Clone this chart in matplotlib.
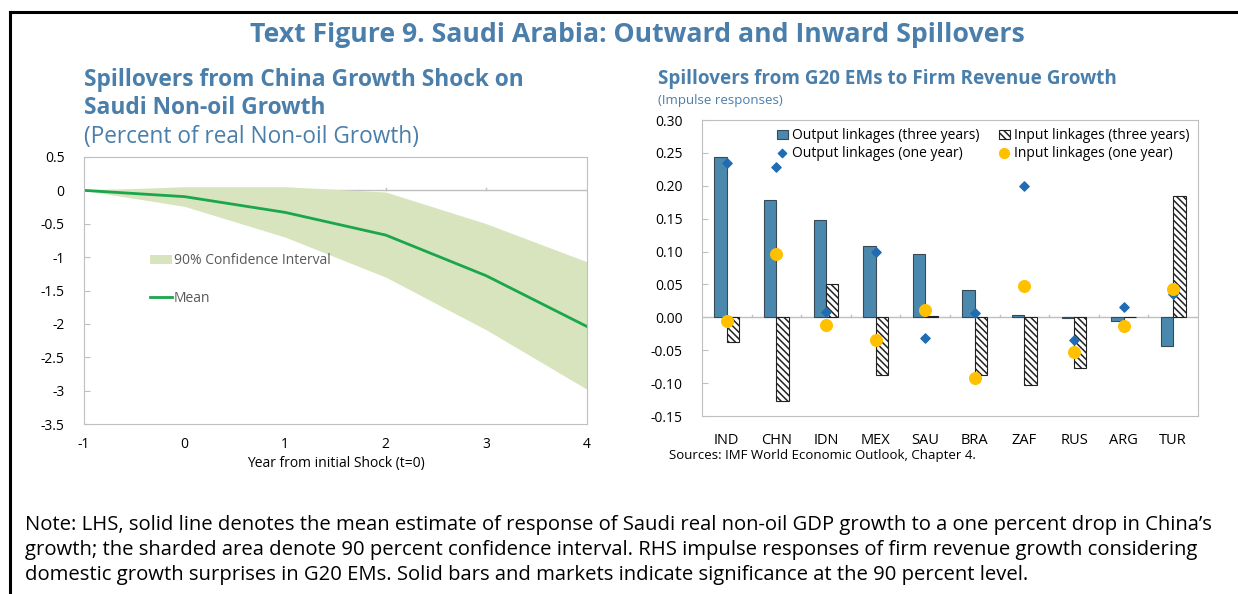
import numpy as np
import matplotlib
matplotlib.use("Agg")
import matplotlib.pyplot as plt
from matplotlib.lines import Line2D

plt.rcParams['font.family'] = ['Open Sans', 'DejaVu Sans']
plt.rcParams['axes.unicode_minus'] = False
plt.rcParams['hatch.linewidth'] = 1.1

# left chart data
years = [-1, 0, 1, 2, 3, 4]
mean = [0, -0.094, -0.33, -0.67, -1.28, -2.04]
lower = [0, -0.24, -0.70, -1.30, -2.09, -2.98]
upper = [0, 0.055, 0.055, -0.025, -0.50, -1.07]

# right chart data
countries = ['IND', 'CHN', 'IDN', 'MEX', 'SAU', 'BRA', 'ZAF', 'RUS', 'ARG', 'TUR']
out_3y = [0.244, 0.178, 0.148, 0.109, 0.096, 0.041, 0.003, -0.001, -0.006, -0.044]
in_3y = [-0.038, -0.127, 0.050, -0.087, 0.002, -0.088, -0.103, -0.077, 0.001, 0.184]
out_1y = [0.235, 0.228, 0.008, 0.099, -0.031, 0.007, 0.200, -0.035, 0.016, 0.036]
in_1y = [-0.005, 0.096, -0.012, -0.034, 0.011, -0.092, 0.048, -0.052, -0.013, 0.043]

title_col = '#4a7eab'
grey = '#bfbfbf'

fig = plt.figure(figsize=(12.38, 5.94), dpi=100)

# frame lines (top and left)
fig.add_artist(Line2D([10/1238, 1], [1-12/594, 1-12/594], color='black', lw=2.2))
fig.add_artist(Line2D([10/1238, 10/1238], [0, 1-12/594], color='black', lw=2.2))

fig.text(0.515, 1-35/594, 'Text Figure 9. Saudi Arabia: Outward and Inward Spillovers',
         ha='center', va='center', fontsize=19.2, fontweight='bold', color=title_col)

# ---- left chart
fig.text(84/1238, 1-80/594, 'Spillovers from China Growth Shock on', ha='left', va='center',
         fontsize=16.4, fontweight='bold', color=title_col)
fig.text(84/1238, 1-108/594, 'Saudi Non-oil Growth', ha='left', va='center',
         fontsize=16.4, fontweight='bold', color=title_col)
fig.text(84/1238, 1-137/594, '(Percent of real Non-oil Growth)', ha='left', va='center',
         fontsize=16.3, color=title_col)

ax1 = fig.add_axes([84/1238, 1-424/594, 503/1238, 267/594])
ax1.fill_between(years, lower, upper, color='#d7e4bd', lw=0, label='90% Confidence Interval')
ax1.plot(years, mean, color='#1aa64b', lw=2, label='Mean')
ax1.axhline(0, color=grey, lw=1, zorder=0)
for x in years[1:-1]:
    ax1.plot([x, x], [0, 0.04], color=grey, lw=1, zorder=0)
ax1.set_xlim(-1, 4)
ax1.set_ylim(-3.5, 0.5)
ax1.set_yticks(np.arange(-3.5, 0.51, 0.5))
ax1.set_yticklabels(['-3.5', '-3', '-2.5', '-2', '-1.5', '-1', '-0.5', '0', '0.5'])
ax1.set_xticks(years)
ax1.tick_params(axis='y', direction='in', length=4, color=grey, labelsize=10, pad=14)
ax1.tick_params(axis='x', length=0, labelsize=10, pad=9)
for s in ax1.spines.values():
    s.set_color(grey)
ax1.set_xlabel('Year from initial Shock (t=0)', fontsize=10, labelpad=3)
leg1 = ax1.legend(loc='upper left', bbox_to_anchor=(0.12, 0.66), frameon=False, fontsize=10,
                  labelspacing=1.6, handlelength=1.6, handletextpad=0.1, borderaxespad=0)
for t in leg1.get_texts():
    t.set_color('#595959')

# ---- right chart
fig.text(658/1238, 1-79/594, 'Spillovers from G20 EMs to Firm Revenue Growth', ha='left',
         va='center', fontsize=13.6, fontweight='bold', color=title_col)
fig.text(658/1238, 1-101/594, '(Impulse responses)', ha='left', va='center',
         fontsize=9.5, color=title_col)

ax2 = fig.add_axes([702/1238, 1-416/594, 496/1238, 296/594])
x = np.arange(len(countries))
w = 0.25
b1 = ax2.bar(x - w/2, out_3y, w, color='#4a89ad', edgecolor='#3a4a55', lw=0.8,
             label='Output linkages (three years)', zorder=2)
b2 = ax2.bar(x + w/2, in_3y, w, color='white', edgecolor='#222222', hatch='\\\\\\\\\\', lw=0.8,
             label='Input linkages (three years)', zorder=2)
s1 = ax2.scatter(x, out_1y, marker='D', s=22, color='#1f6bb5', label='Output linkages (one year)', zorder=3)
s2 = ax2.scatter(x, in_1y, marker='o', s=70, color='#ffc000', label='Input linkages (one year)', zorder=4)
ax2.axhline(0, color=grey, lw=1, zorder=1)
for b in np.arange(0.5, 9.5, 1):
    ax2.plot([b, b], [0, 0.004], color=grey, lw=1, zorder=1)
ax2.set_xlim(-0.5, 9.5)
ax2.set_ylim(-0.15, 0.30)
ax2.set_yticks(np.arange(-0.15, 0.301, 0.05))
ax2.set_yticklabels([f'{v:.2f}' for v in np.arange(-0.15, 0.301, 0.05)])
ax2.set_xticks(x)
ax2.set_xticklabels(countries)
ax2.tick_params(axis='y', direction='in', length=4, color=grey, labelsize=10, pad=14)
ax2.tick_params(axis='x', length=0, labelsize=10.5, pad=12)
for s in ax2.spines.values():
    s.set_color(grey)
leg2 = ax2.legend([b1, s1, b2, s2],
                  ['Output linkages (three years)', 'Output linkages (one year)',
                   'Input linkages (three years)', 'Input linkages (one year)'],
                  loc='upper right', bbox_to_anchor=(1.0, 1.0), ncol=2, frameon=False, fontsize=10,
                  labelspacing=0.2, handlelength=0.8, handletextpad=0.3, columnspacing=1.4,
                  borderaxespad=0.2, scatterpoints=1)
leg2.legend_handles[1].set_sizes([18])
leg2.legend_handles[3].set_sizes([50])

fig.text(669/1238, 1-455/594, 'Sources: IMF World Economic Outlook, Chapter 4.', ha='left',
         va='center', fontsize=9.5)

note = ("Note: LHS, solid line denotes the mean estimate of response of Saudi real non-oil GDP growth to a one percent drop in China\u2019s\n"
        "growth; the sharded area denote 90 percent confidence interval. RHS impulse responses of firm revenue growth considering\n"
        "domestic growth surprises in G20 EMs. Solid bars and markets indicate significance at the 90 percent level.")
fig.text(25/1238, 1-550/594, note, ha='left', va='center', fontsize=14.55, linespacing=1.36)

fig.savefig('out.png', dpi=100)
